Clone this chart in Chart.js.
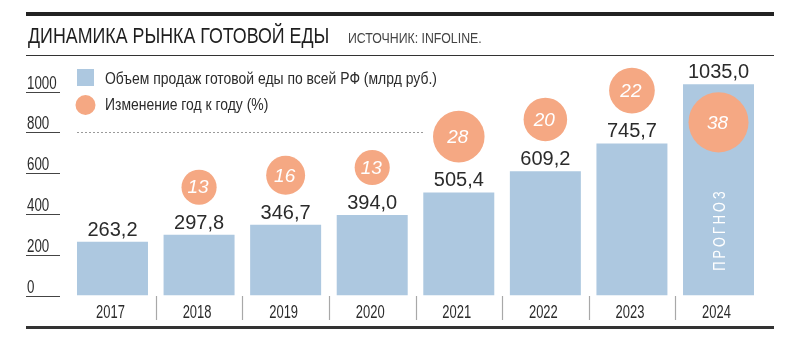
<!DOCTYPE html>
<html lang="ru">
<head>
<meta charset="utf-8">
<title>Динамика рынка готовой еды</title>
<script src="https://cdn.jsdelivr.net/npm/chart.js@4/dist/chart.umd.min.js"></script>
<style>
  html, body { margin: 0; padding: 0; background: #fff; }
  #wrap { width: 800px; height: 339px; position: relative; }
</style>
</head>
<body>
<div id="wrap"><canvas id="chart" width="800" height="339"></canvas></div>
<script>
// Market data, bn RUB, and year-over-year change, %
const categories = ['2017', '2018', '2019', '2020', '2021', '2022', '2023', '2024'];
const salesBn = [263.2, 297.8, 346.7, 394.0, 505.4, 609.2, 745.7, 1035.0];
const growthPct = [null, 13, 16, 13, 28, 20, 22, 38];
const yTickValues = [0, 200, 400, 600, 800, 1000];
const forecastYears = ['2024'];

const titleText = 'ДИНАМИКА РЫНКА ГОТОВОЙ ЕДЫ';
const sourceText = 'ИСТОЧНИК: INFOLINE.';
const salesLabel = 'Объем продаж готовой еды по всей РФ (млрд руб.)';
const growthLabel = 'Изменение год к году (%)';
const forecastText = 'ПРОГНОЗ';

const BAR_COLOR = '#adc8e0';
const BUBBLE_COLOR = '#f5a883';
const INK = '#2b2b2b';
const SANS = '"Liberation Sans", Arial, sans-serif';

// bubble area grows with the percentage
const bubbleRadius = v => 4.87 * Math.sqrt(v);

const bubbleData = [];
categories.forEach((c, i) => {
  if (growthPct[i] !== null) {
    bubbleData.push({ x: c, y: salesBn[i], r: bubbleRadius(growthPct[i]), pct: growthPct[i] });
  }
});

const fmt = v => v.toFixed(1).replace('.', ',');

// condensed lettering: regular sans squeezed horizontally
function squeezed(ctx, text, x, y, size, sx, align, color) {
  ctx.save();
  ctx.font = size + 'px ' + SANS;
  ctx.fillStyle = color;
  ctx.textAlign = 'left';
  const w = ctx.measureText(text).width * sx;
  let left = x;
  if (align === 'center') left = x - w / 2;
  else if (align === 'right') left = x - w;
  ctx.translate(left, y);
  ctx.scale(sx, 1);
  ctx.fillText(text, 0, 0);
  ctx.restore();
  return w;
}

const decor = {
  id: 'decor',
  afterDatasetsUpdate(chart) {
    // lift each bubble above its bar label; forecast bubble sits inside the bar
    const meta = chart.getDatasetMeta(1);
    meta.data.forEach((el, i) => {
      const d = bubbleData[i];
      if (forecastYears.includes(d.x)) {
        el.y = el.y + 38;
      } else {
        el.y = el.y - 30 - d.r;
      }
    });
  },
  beforeDatasetsDraw(chart) {
    const { ctx } = chart;
    const y = chart.scales.y;
    const bars = chart.getDatasetMeta(0).data;
    const bubbles = chart.getDatasetMeta(1).data;
    ctx.save();
    ctx.textBaseline = 'alphabetic';
    ctx.strokeStyle = '#444';
    ctx.lineWidth = 1;
    // value axis: labels sitting on short rules
    yTickValues.forEach(v => {
      const py = Math.round(y.getPixelForValue(v)) + 0.5;
      ctx.beginPath();
      ctx.moveTo(26, py);
      ctx.lineTo(60, py);
      ctx.stroke();
      squeezed(ctx, String(v), 27, py - 4, 18, 0.74, 'left', INK);
    });
    // dotted guide at 800, stopping before the first bubble in its way
    const gy = Math.round(y.getPixelForValue(800)) + 0.5;
    const x0 = bars[0].x - bars[0].width / 2;
    let x1 = chart.chartArea.right;
    for (const b of bubbles) {
      const r = b.options.radius;
      if (gy > b.y - r && gy < b.y + r) { x1 = b.x - r - 10; break; }
    }
    ctx.strokeStyle = '#9a9a9a';
    ctx.setLineDash([2, 2]);
    ctx.beginPath();
    ctx.moveTo(x0, gy);
    ctx.lineTo(x1, gy);
    ctx.stroke();
    ctx.restore();
  },
  afterDatasetsDraw(chart) {
    const { ctx } = chart;
    const x = chart.scales.x;
    const bars = chart.getDatasetMeta(0).data;
    const bubbles = chart.getDatasetMeta(1).data;
    ctx.save();

    // bar values
    ctx.font = '20px ' + SANS;
    ctx.fillStyle = INK;
    ctx.textAlign = 'center';
    ctx.textBaseline = 'alphabetic';
    bars.forEach((b, i) => {
      ctx.fillText(fmt(salesBn[i]), b.x, b.y - 6);
    });

    // bubble values
    ctx.font = 'italic 19px ' + SANS;
    ctx.fillStyle = '#fff';
    ctx.textBaseline = 'middle';
    bubbles.forEach((b, i) => {
      ctx.fillText(String(bubbleData[i].pct), b.x - 1, b.y + 1);
    });

    // forecast mark inside the bar, reading upwards
    bars.forEach((b, i) => {
      if (!forecastYears.includes(categories[i])) return;
      ctx.save();
      ctx.translate(b.x + 2, 231);
      ctx.rotate(-Math.PI / 2);
      ctx.font = '16px ' + SANS;
      ctx.fillStyle = '#fff';
      ctx.textAlign = 'left';
      ctx.textBaseline = 'middle';
      const sx = 0.8, sp = 3;
      const widths = [...forecastText].map(ch => ctx.measureText(ch).width * sx);
      const total = widths.reduce((a, w) => a + w, 0) + sp * (widths.length - 1);
      let cx = -total / 2;
      [...forecastText].forEach((ch, k) => {
        ctx.save();
        ctx.translate(cx, 0);
        ctx.scale(sx, 1);
        ctx.fillText(ch, 0, 0);
        ctx.restore();
        cx += widths[k] + sp;
      });
      ctx.restore();
    });

    // category labels and separators
    ctx.textBaseline = 'alphabetic';
    const step = x.getPixelForValue(1) - x.getPixelForValue(0);
    ctx.strokeStyle = '#a8a8a8';
    ctx.lineWidth = 1.2;
    categories.forEach((c, i) => {
      const px = x.getPixelForValue(i);
      squeezed(ctx, c, px - 2, 318, 18, 0.72, 'center', INK);
      if (i > 0) {
        const sx = Math.round(px - step / 2) + 0.5;
        ctx.beginPath();
        ctx.moveTo(sx, 296);
        ctx.lineTo(sx, 320);
        ctx.stroke();
      }
    });

    // frame rules
    ctx.strokeStyle = '#222';
    ctx.lineWidth = 4;
    ctx.beginPath(); ctx.moveTo(26, 14); ctx.lineTo(774, 14); ctx.stroke();
    ctx.lineWidth = 1;
    ctx.strokeStyle = '#333';
    ctx.beginPath(); ctx.moveTo(26, 55.5); ctx.lineTo(774, 55.5); ctx.stroke();
    ctx.lineWidth = 3;
    ctx.beginPath(); ctx.moveTo(26, 327.5); ctx.lineTo(774, 327.5); ctx.stroke();

    // heading
    squeezed(ctx, titleText, 28, 43, 22, 0.81, 'left', '#1e1e1e');
    squeezed(ctx, sourceText, 348, 43, 15, 0.82, 'left', '#444');

    // legend
    const lx = bars[0].x - bars[0].width / 2;
    ctx.fillStyle = BAR_COLOR;
    ctx.fillRect(lx, 69, 17, 17);
    ctx.fillStyle = BUBBLE_COLOR;
    ctx.beginPath(); ctx.arc(lx + 8.5, 105, 10, 0, Math.PI * 2); ctx.fill();
    squeezed(ctx, chart.data.datasets[0].label, lx + 28, 84, 17, 0.82, 'left', INK);
    squeezed(ctx, chart.data.datasets[1].label, lx + 28, 110, 17, 0.82, 'left', INK);

    ctx.restore();
  }
};

new Chart(document.getElementById('chart'), {
  type: 'bar',
  data: {
    labels: categories,
    datasets: [
      {
        type: 'bar',
        label: salesLabel,
        data: salesBn,
        backgroundColor: BAR_COLOR,
        borderWidth: 0,
        barPercentage: 0.82,
        categoryPercentage: 1.0,
        order: 1
      },
      {
        type: 'bubble',
        label: growthLabel,
        data: bubbleData,
        backgroundColor: BUBBLE_COLOR,
        borderWidth: 0,
        clip: false,
        order: 0
      }
    ]
  },
  options: {
    responsive: false,
    animation: false,
    events: [],
    layout: { padding: { top: 50.7, bottom: 43.5, left: 69.2, right: 38.2 } },
    scales: {
      x: { type: 'category', offset: true, display: false },
      y: { type: 'linear', min: 0, max: 1200, display: false }
    },
    plugins: {
      legend: { display: false },
      title: { display: false },
      tooltip: { enabled: false }
    }
  },
  plugins: [decor]
});
</script>
</body>
</html>
